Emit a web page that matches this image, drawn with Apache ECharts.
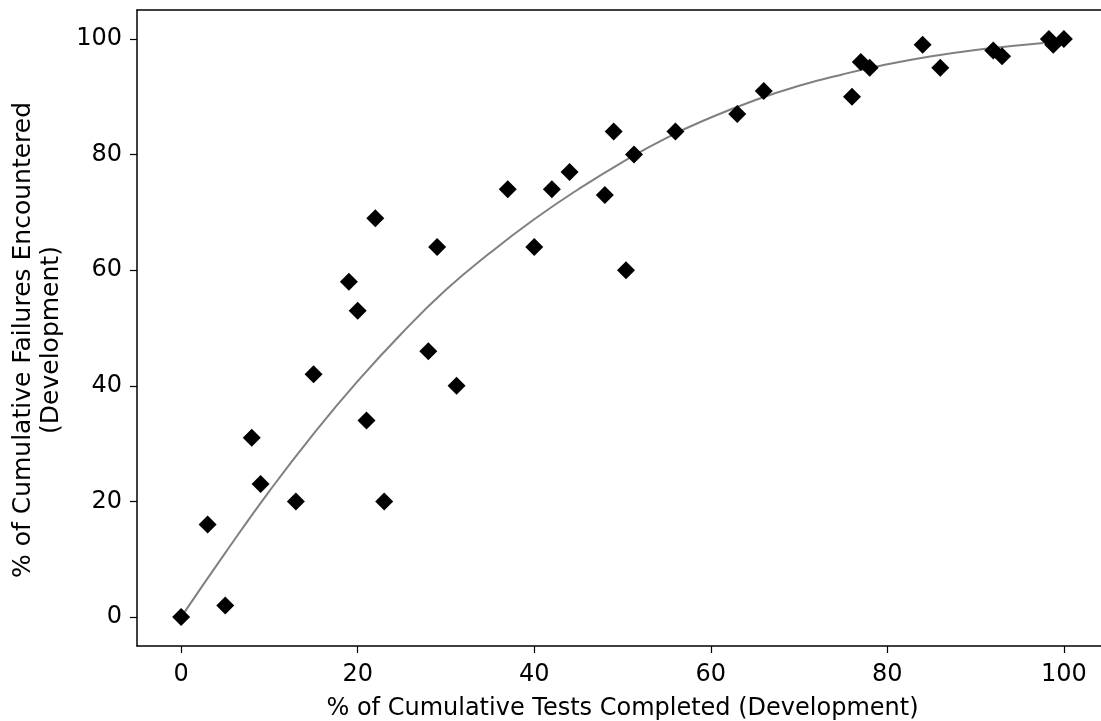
<!DOCTYPE html>
<html>
<head>
<meta charset="utf-8">
<script src="https://cdn.jsdelivr.net/npm/echarts@6/dist/echarts.min.js"></script>
<style>
  html, body { margin: 0; padding: 0; background: #fff; overflow: hidden; }
  #chart { width: 1101px; height: 721px; }
</style>
</head>
<body>
<div id="chart"></div>
<script>
// % tests completed vs % failures encountered
var testsDone = [0, 3, 5, 8, 9, 13, 15, 19, 20, 21, 22, 23, 28, 29, 31.2, 37, 40, 42, 44, 48, 49, 50.4, 51.3, 56, 63, 66, 76, 77, 78, 84, 86, 92, 93, 98.3, 98.8, 100];
var failsFound = [0, 16, 2, 31, 23, 20, 42, 58, 53, 34, 69, 20, 46, 64, 40, 74, 64, 74, 77, 73, 84, 60, 80, 84, 87, 91, 90, 96, 95, 99, 95, 98, 97, 100, 99, 100];

// fitted trend line
var fitX = [0, 5, 10, 15, 20, 25, 30, 35, 40, 45, 50, 55, 60, 65, 70, 75, 80, 85, 90, 95, 97.7];
var fitY = [0, 11.1, 21.8, 31.7, 40.8, 49.1, 56.6, 63, 68.8, 74, 78.7, 82.9, 86.4, 89.4, 91.9, 93.9, 95.6, 97, 98.1, 98.9, 99.3];

var tickVals = [0, 20, 40, 60, 80, 100];

var chart = echarts.init(document.getElementById('chart'), null, { renderer: 'canvas' });

var pts = [];
for (var i = 0; i < testsDone.length; i++) pts.push([testsDone[i], failsFound[i]]);
var fit = [];
for (var j = 0; j < fitX.length; j++) fit.push([fitX[j], fitY[j]]);

var font = 'DejaVu Sans';
var frame = { show: true, onZero: false, lineStyle: { color: '#000', width: 1.5 } };

var option = {
  animation: false,
  backgroundColor: '#fff',
  grid: {
    // plot box runs a little past the right edge of the picture
    left: 137, top: 10, width: 971, bottom: 75,
    outerBoundsMode: 'none',
    containLabel: false,
    show: false
  },
  xAxis: [{
    type: 'value',
    min: -5, max: 105,
    splitLine: { show: false },
    axisLine: frame,
    axisTick: { show: true, length: 7, customValues: tickVals, lineStyle: { color: '#000', width: 1.2 } },
    axisLabel: { customValues: tickVals, color: '#000', fontFamily: font, fontSize: 24, margin: 17 },
    name: '% of Cumulative Tests Completed (Development)',
    nameLocation: 'middle',
    nameGap: 51,
    nameTextStyle: { color: '#000', fontFamily: font, fontSize: 24 }
  }, {
    // top edge of the box only
    type: 'value',
    position: 'top',
    min: -5, max: 105,
    splitLine: { show: false },
    axisLine: frame,
    axisTick: { show: false },
    axisLabel: { show: false }
  }],
  yAxis: {
    type: 'value',
    min: -5, max: 105,
    splitLine: { show: false },
    axisLine: frame,
    axisTick: { show: true, length: 7, customValues: tickVals, lineStyle: { color: '#000', width: 1.2 } },
    axisLabel: { customValues: tickVals, color: '#000', fontFamily: font, fontSize: 24, margin: 15 },
    name: '% of Cumulative Failures Encountered\n(Development)',
    nameLocation: 'middle',
    nameGap: 72,
    nameTextStyle: { color: '#000', fontFamily: font, fontSize: 25, lineHeight: 28, padding: [0, 24, 0, 0] }
  },
  series: [
    {
      name: 'fit',
      type: 'line',
      data: fit,
      smooth: true,
      showSymbol: false,
      lineStyle: { color: '#808080', width: 2 },
      z: 2
    },
    {
      name: 'data',
      type: 'scatter',
      data: pts,
      symbol: 'diamond',
      symbolSize: 18,
      itemStyle: { color: '#000', opacity: 1 },
      z: 3
    }
  ]
};

chart.setOption(option);
</script>
</body>
</html>
